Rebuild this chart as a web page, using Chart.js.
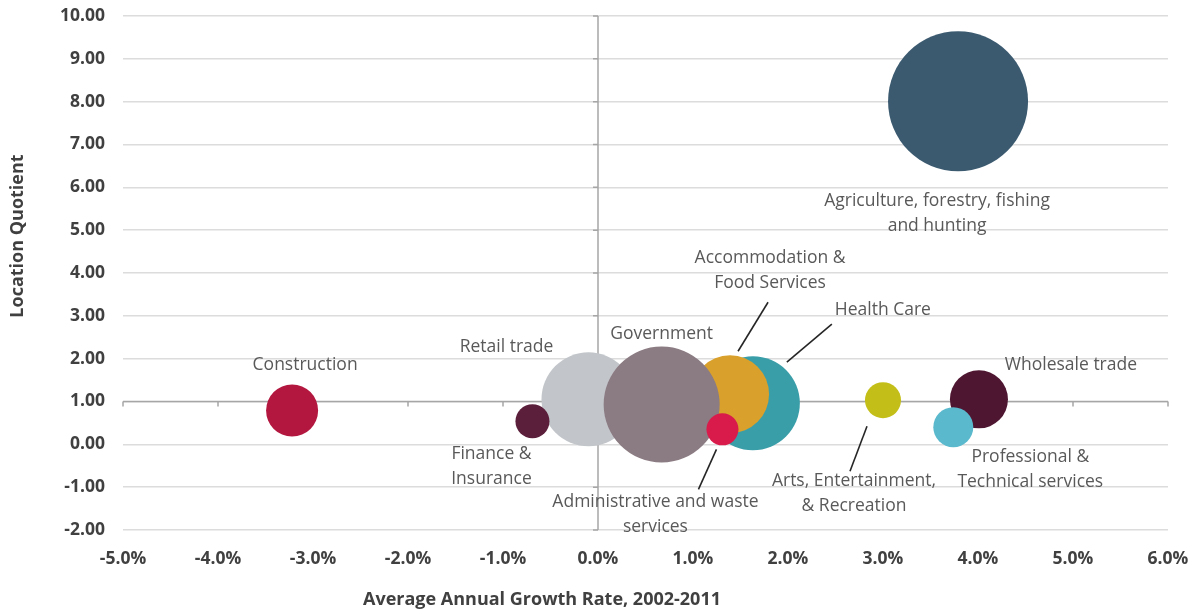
<!DOCTYPE html>
<html>
<head>
<meta charset="utf-8">
<script src="https://cdn.jsdelivr.net/npm/chart.js@4.4.1/dist/chart.umd.min.js"></script>
<style>
  html, body { margin: 0; padding: 0; background: #ffffff; }
  #wrap { width: 1195px; height: 609px; position: relative; }
</style>
</head>
<body>
<div id="wrap"><canvas id="c" width="1195" height="609"></canvas></div>
<script>
// ---- data ----
const industries = [
  "Agriculture, forestry, fishing and hunting",
  "Retail trade",
  "Health Care",
  "Accommodation & Food Services",
  "Government",
  "Finance & Insurance",
  "Construction",
  "Wholesale trade",
  "Professional & Technical services",
  "Arts, Entertainment, & Recreation",
  "Administrative and waste services"
];
const growthRate = [3.79, -0.10, 1.63, 1.39, 0.67, -0.69, -3.22, 4.01, 3.74, 3.00, 1.31];
const locationQuotient = [8.01, 1.05, 0.96, 1.17, 0.93, 0.54, 0.79, 1.05, 0.40, 1.03, 0.35];
const bubbleSize = [4900, 2209, 2209, 1521, 3364, 289, 676, 841, 400, 324, 256];
const xTicks = [-5, -4, -3, -2, -1, 0, 1, 2, 3, 4, 5, 6];
const yTicks = [-2, -1, 0, 1, 2, 3, 4, 5, 6, 7, 8, 9, 10];

// ---- styles / layout ----
const colors = ["#3b5a70", "#c2c6ca", "#3a9ea9", "#d9a12b", "#8b7b82", "#5b1f3c",
                "#b3163f", "#4f1631", "#5bb9cd", "#c3bf18", "#d81b4b"];
// label lines and offsets (px relative to bubble centre), leader lines
const labelLayout = [
  { lines: ["Agriculture, forestry, fishing", "and hunting"], dx: -21, dy: 100 },
  { lines: ["Retail trade"], dx: -82, dy: -52 },
  { lines: ["Health Care"], dx: 130, dy: -93, leader: [79, -79, 34, -41] },
  { lines: ["Accommodation &", "Food Services"], dx: 40, dy: -136, leader: [38, -92, 8, -43] },
  { lines: ["Government"], dx: 0, dy: -70 },
  { lines: ["Finance &", "Insurance"], dx: -41, dy: 33 },
  { lines: ["Construction"], dx: 13, dy: -45 },
  { lines: ["Wholesale trade"], dx: 92, dy: -34 },
  { lines: ["Professional &", "Technical services"], dx: 77, dy: 30 },
  { lines: ["Arts, Entertainment,", "& Recreation"], dx: -29, dy: 81, leader: [-16, 26, -33, 71] },
  { lines: ["Administrative and waste", "services"], dx: -67, dy: 73, leader: [-6, 20, -24, 60] }
];
const FONT = "'Open Sans', 'DejaVu Sans', sans-serif";

const points = growthRate.map((g, i) => ({ x: g, y: locationQuotient[i], r: Math.sqrt(bubbleSize[i]) }));

const overlay = {
  id: 'overlay',
  beforeDatasetsDraw(chart) {
    const { ctx, chartArea: a, scales: { x, y } } = chart;
    ctx.save();
    ctx.strokeStyle = '#a6a6a6';
    ctx.lineWidth = 1.5;
    const y1 = y.getPixelForValue(1);
    const x0 = x.getPixelForValue(0);
    ctx.beginPath();
    ctx.moveTo(a.left, y1); ctx.lineTo(a.right, y1);
    xTicks.forEach(t => { const px = x.getPixelForValue(t); ctx.moveTo(px, y1); ctx.lineTo(px, y1 + 5); });
    ctx.moveTo(x0, a.top); ctx.lineTo(x0, a.bottom);
    yTicks.forEach(t => { const py = y.getPixelForValue(t); ctx.moveTo(x0 - 5, py); ctx.lineTo(x0, py); });
    ctx.stroke();
    ctx.restore();
  },
  afterDatasetsDraw(chart) {
    const { ctx, scales: { x, y } } = chart;
    ctx.save();
    ctx.font = "17.5px " + FONT;
    ctx.fillStyle = '#595959';
    ctx.textAlign = 'center';
    ctx.textBaseline = 'middle';
    labelLayout.forEach((L, i) => {
      const cx = x.getPixelForValue(growthRate[i]);
      const cy = y.getPixelForValue(locationQuotient[i]);
      L.lines.forEach((t, k) => ctx.fillText(t, cx + L.dx, cy + L.dy + k * 25));
      if (L.leader) {
        ctx.strokeStyle = '#262626';
        ctx.lineWidth = 1.6;
        ctx.beginPath();
        ctx.moveTo(cx + L.leader[0], cy + L.leader[1]);
        ctx.lineTo(cx + L.leader[2], cy + L.leader[3]);
        ctx.stroke();
      }
    });
    // axis titles
    ctx.fillStyle = '#404040';
    ctx.font = "bold 18px " + FONT;
    ctx.fillText("Average Annual Growth Rate, 2002-2011", 542, 600);
    ctx.translate(18, 236);
    ctx.rotate(-Math.PI / 2);
    ctx.fillText("Location Quotient", 0, 0);
    ctx.restore();
  }
};

new Chart(document.getElementById('c'), {
  type: 'bubble',
  data: {
    datasets: [{
      data: points,
      backgroundColor: colors,
      borderWidth: 0,
      hoverBorderWidth: 0,
      clip: false
    }]
  },
  options: {
    responsive: false,
    animation: false,
    events: [],
    layout: { autoPadding: false, padding: { left: 0, right: 27, top: 16, bottom: 0 } },
    plugins: { legend: { display: false }, tooltip: { enabled: false } },
    scales: {
      x: {
        type: 'linear', min: -5, max: 6,
        afterBuildTicks: s => { s.ticks = xTicks.map(v => ({ value: v })); },
        afterFit: s => { s.height = 79; s.paddingLeft = 0; s.paddingRight = 0; },
        grid: { display: false, drawTicks: false },
        border: { display: false },
        ticks: {
          padding: 19,
          color: '#404040',
          font: { family: FONT, size: 17.5, weight: 'bold' },
          callback: v => v.toFixed(1) + '%'
        }
      },
      y: {
        type: 'linear', min: -2, max: 10,
        afterBuildTicks: s => { s.ticks = yTicks.map(v => ({ value: v })); },
        afterFit: s => { s.width = 123; s.paddingTop = 0; s.paddingBottom = 0; },
        grid: { color: '#dcdcdc', lineWidth: 1.5, drawTicks: false },
        border: { display: false },
        ticks: {
          padding: 18,
          color: '#404040',
          font: { family: FONT, size: 17.5, weight: 'bold' },
          callback: v => v.toFixed(2)
        }
      }
    }
  },
  plugins: [overlay]
});
</script>
</body>
</html>
